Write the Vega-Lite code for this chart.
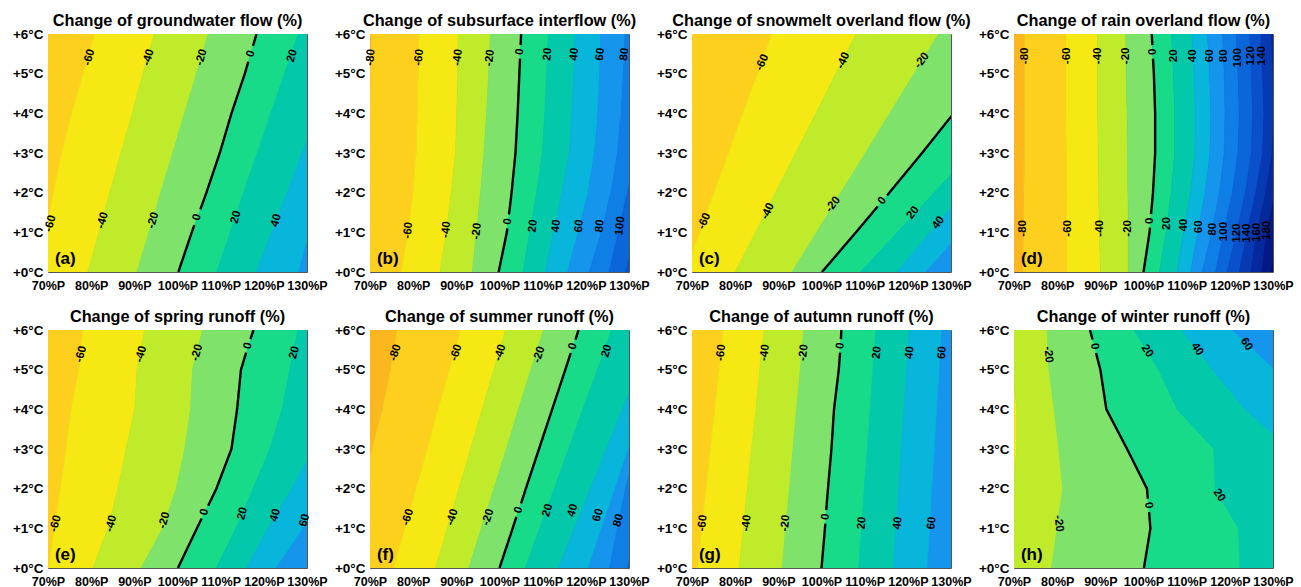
{
"$schema": "https://vega.github.io/schema/vega-lite/v6.json",
"padding": {"left": 11, "top": 12, "right": 5, "bottom": 0},
"background": "white",
"config": {
  "view": {"stroke": "#555555", "strokeWidth": 1},
  "axis": {"grid": false, "domain": false, "ticks": false, "labelFont": "Liberation Sans", "labelFontSize": 12.5, "labelFontWeight": "bold", "labelColor": "#000000", "labelFlush": false, "labelOverlap": false},
  "axisY": {"labelFontSize": 13.5}
},
"data": {"values": [
{"k":"b","panel":"a","band":-80,"t":0,"p":70},{"k":"b","panel":"a","band":-80,"t":1,"p":70},{"k":"b","panel":"a","band":-80,"t":2,"p":70},{"k":"b","panel":"a","band":-80,"t":3,"p":70},{"k":"b","panel":"a","band":-80,"t":4,"p":70},{"k":"b","panel":"a","band":-80,"t":5,"p":70},{"k":"b","panel":"a","band":-80,"t":6,"p":70},
{"k":"b","panel":"a","band":-60,"t":0,"p":67.5},{"k":"b","panel":"a","band":-60,"t":1,"p":69.5},{"k":"b","panel":"a","band":-60,"t":2,"p":71.3},{"k":"b","panel":"a","band":-60,"t":3,"p":73.2},{"k":"b","panel":"a","band":-60,"t":4,"p":75.5},{"k":"b","panel":"a","band":-60,"t":5,"p":78.2},{"k":"b","panel":"a","band":-60,"t":6,"p":80.8},
{"k":"b","panel":"a","band":-40,"t":0,"p":79.2},{"k":"b","panel":"a","band":-40,"t":1,"p":81.8},{"k":"b","panel":"a","band":-40,"t":2,"p":84.3},{"k":"b","panel":"a","band":-40,"t":3,"p":86.9},{"k":"b","panel":"a","band":-40,"t":4,"p":89.5},{"k":"b","panel":"a","band":-40,"t":5,"p":92.0},{"k":"b","panel":"a","band":-40,"t":6,"p":94.6},
{"k":"b","panel":"a","band":-20,"t":0,"p":90.6},{"k":"b","panel":"a","band":-20,"t":1,"p":93.4},{"k":"b","panel":"a","band":-20,"t":2,"p":96.1},{"k":"b","panel":"a","band":-20,"t":3,"p":98.9},{"k":"b","panel":"a","band":-20,"t":4,"p":101.6},{"k":"b","panel":"a","band":-20,"t":5,"p":104.4},{"k":"b","panel":"a","band":-20,"t":6,"p":107.1},
{"k":"b","panel":"a","band":0,"t":0,"p":100.2},{"k":"b","panel":"a","band":0,"t":1,"p":103.3},{"k":"b","panel":"a","band":0,"t":2,"p":106.7},{"k":"b","panel":"a","band":0,"t":3,"p":109.8},{"k":"b","panel":"a","band":0,"t":4,"p":112.5},{"k":"b","panel":"a","band":0,"t":5,"p":115.6},{"k":"b","panel":"a","band":0,"t":6,"p":118.3},
{"k":"b","panel":"a","band":20,"t":0,"p":109.1},{"k":"b","panel":"a","band":20,"t":1,"p":112.2},{"k":"b","panel":"a","band":20,"t":2,"p":115.3},{"k":"b","panel":"a","band":20,"t":3,"p":118.5},{"k":"b","panel":"a","band":20,"t":4,"p":121.6},{"k":"b","panel":"a","band":20,"t":5,"p":124.8},{"k":"b","panel":"a","band":20,"t":6,"p":127.9},
{"k":"b","panel":"a","band":40,"t":0,"p":118.3},{"k":"b","panel":"a","band":40,"t":1,"p":121.8},{"k":"b","panel":"a","band":40,"t":2,"p":125.4},{"k":"b","panel":"a","band":40,"t":3,"p":128.9},{"k":"b","panel":"a","band":40,"t":4,"p":132.4},{"k":"b","panel":"a","band":40,"t":5,"p":136.0},{"k":"b","panel":"a","band":40,"t":6,"p":139.5},
{"k":"b","panel":"a","band":60,"t":0,"p":127.9},{"k":"b","panel":"a","band":60,"t":1,"p":130.5},{"k":"b","panel":"a","band":60,"t":2,"p":133.5},{"k":"b","panel":"a","band":60,"t":3,"p":136.5},{"k":"b","panel":"a","band":60,"t":4,"p":139.5},{"k":"b","panel":"a","band":60,"t":5,"p":142.5},{"k":"b","panel":"a","band":60,"t":6,"p":145.5},
{"k":"bg","panel":"a","band":60},
{"k":"b","panel":"b","band":-100,"t":0,"p":70},{"k":"b","panel":"b","band":-100,"t":1,"p":70},{"k":"b","panel":"b","band":-100,"t":2,"p":70},{"k":"b","panel":"b","band":-100,"t":3,"p":70},{"k":"b","panel":"b","band":-100,"t":4,"p":70},{"k":"b","panel":"b","band":-100,"t":5,"p":70},{"k":"b","panel":"b","band":-100,"t":6,"p":70},
{"k":"b","panel":"b","band":-80,"t":0,"p":68.0},{"k":"b","panel":"b","band":-80,"t":1,"p":68.5},{"k":"b","panel":"b","band":-80,"t":2,"p":69.0},{"k":"b","panel":"b","band":-80,"t":3,"p":69.4},{"k":"b","panel":"b","band":-80,"t":4,"p":69.8},{"k":"b","panel":"b","band":-80,"t":5,"p":70.1},{"k":"b","panel":"b","band":-80,"t":6,"p":70.4},
{"k":"b","panel":"b","band":-60,"t":0,"p":77.3},{"k":"b","panel":"b","band":-60,"t":1,"p":78.8},{"k":"b","panel":"b","band":-60,"t":2,"p":80.0},{"k":"b","panel":"b","band":-60,"t":3,"p":80.7},{"k":"b","panel":"b","band":-60,"t":4,"p":81.0},{"k":"b","panel":"b","band":-60,"t":5,"p":81.2},{"k":"b","panel":"b","band":-60,"t":6,"p":81.4},
{"k":"b","panel":"b","band":-40,"t":0,"p":86.2},{"k":"b","panel":"b","band":-40,"t":1,"p":87.7},{"k":"b","panel":"b","band":-40,"t":2,"p":88.8},{"k":"b","panel":"b","band":-40,"t":3,"p":89.8},{"k":"b","panel":"b","band":-40,"t":4,"p":90.1},{"k":"b","panel":"b","band":-40,"t":5,"p":90.3},{"k":"b","panel":"b","band":-40,"t":6,"p":90.4},
{"k":"b","panel":"b","band":-20,"t":0,"p":93.7},{"k":"b","panel":"b","band":-20,"t":1,"p":94.7},{"k":"b","panel":"b","band":-20,"t":2,"p":95.6},{"k":"b","panel":"b","band":-20,"t":3,"p":96.4},{"k":"b","panel":"b","band":-20,"t":4,"p":97.0},{"k":"b","panel":"b","band":-20,"t":5,"p":97.5},{"k":"b","panel":"b","band":-20,"t":6,"p":97.9},
{"k":"b","panel":"b","band":0,"t":0,"p":99.8},{"k":"b","panel":"b","band":0,"t":1,"p":101.7},{"k":"b","panel":"b","band":0,"t":2,"p":102.8},{"k":"b","panel":"b","band":0,"t":3,"p":103.7},{"k":"b","panel":"b","band":0,"t":4,"p":104.2},{"k":"b","panel":"b","band":0,"t":5,"p":104.6},{"k":"b","panel":"b","band":0,"t":6,"p":105.0},
{"k":"b","panel":"b","band":20,"t":0,"p":105.4},{"k":"b","panel":"b","band":20,"t":1,"p":107.0},{"k":"b","panel":"b","band":20,"t":2,"p":108.6},{"k":"b","panel":"b","band":20,"t":3,"p":109.9},{"k":"b","panel":"b","band":20,"t":4,"p":110.5},{"k":"b","panel":"b","band":20,"t":5,"p":110.9},{"k":"b","panel":"b","band":20,"t":6,"p":111.3},
{"k":"b","panel":"b","band":40,"t":0,"p":110.6},{"k":"b","panel":"b","band":40,"t":1,"p":112.5},{"k":"b","panel":"b","band":40,"t":2,"p":114.5},{"k":"b","panel":"b","band":40,"t":3,"p":116.1},{"k":"b","panel":"b","band":40,"t":4,"p":116.8},{"k":"b","panel":"b","band":40,"t":5,"p":117.2},{"k":"b","panel":"b","band":40,"t":6,"p":117.5},
{"k":"b","panel":"b","band":60,"t":0,"p":115.8},{"k":"b","panel":"b","band":60,"t":1,"p":118.2},{"k":"b","panel":"b","band":60,"t":2,"p":120.5},{"k":"b","panel":"b","band":60,"t":3,"p":122.0},{"k":"b","panel":"b","band":60,"t":4,"p":122.8},{"k":"b","panel":"b","band":60,"t":5,"p":123.2},{"k":"b","panel":"b","band":60,"t":6,"p":123.5},
{"k":"b","panel":"b","band":80,"t":0,"p":120.8},{"k":"b","panel":"b","band":80,"t":1,"p":123.6},{"k":"b","panel":"b","band":80,"t":2,"p":125.8},{"k":"b","panel":"b","band":80,"t":3,"p":127.3},{"k":"b","panel":"b","band":80,"t":4,"p":128.2},{"k":"b","panel":"b","band":80,"t":5,"p":128.7},{"k":"b","panel":"b","band":80,"t":6,"p":129.1},
{"k":"b","panel":"b","band":100,"t":0,"p":125.4},{"k":"b","panel":"b","band":100,"t":1,"p":127.5},{"k":"b","panel":"b","band":100,"t":2,"p":129.6},{"k":"b","panel":"b","band":100,"t":3,"p":131.5},{"k":"b","panel":"b","band":100,"t":4,"p":133.0},{"k":"b","panel":"b","band":100,"t":5,"p":134.0},{"k":"b","panel":"b","band":100,"t":6,"p":135.0},
{"k":"b","panel":"b","band":120,"t":0,"p":129.0},{"k":"b","panel":"b","band":120,"t":1,"p":131.5},{"k":"b","panel":"b","band":120,"t":2,"p":134.0},{"k":"b","panel":"b","band":120,"t":3,"p":136.0},{"k":"b","panel":"b","band":120,"t":4,"p":138.0},{"k":"b","panel":"b","band":120,"t":5,"p":139.0},{"k":"b","panel":"b","band":120,"t":6,"p":140.0},
{"k":"bg","panel":"b","band":120},
{"k":"b","panel":"c","band":-80,"t":0,"p":70},{"k":"b","panel":"c","band":-80,"t":1,"p":70},{"k":"b","panel":"c","band":-80,"t":2,"p":70},{"k":"b","panel":"c","band":-80,"t":3,"p":70},{"k":"b","panel":"c","band":-80,"t":4,"p":70},{"k":"b","panel":"c","band":-80,"t":5,"p":70},{"k":"b","panel":"c","band":-80,"t":6,"p":70},
{"k":"b","panel":"c","band":-60,"t":0,"p":68.5},{"k":"b","panel":"c","band":-60,"t":1,"p":71.8},{"k":"b","panel":"c","band":-60,"t":2,"p":75.1},{"k":"b","panel":"c","band":-60,"t":3,"p":78.5},{"k":"b","panel":"c","band":-60,"t":4,"p":81.8},{"k":"b","panel":"c","band":-60,"t":5,"p":85.2},{"k":"b","panel":"c","band":-60,"t":6,"p":88.5},
{"k":"b","panel":"c","band":-40,"t":0,"p":80.0},{"k":"b","panel":"c","band":-40,"t":1,"p":84.7},{"k":"b","panel":"c","band":-40,"t":2,"p":89.3},{"k":"b","panel":"c","band":-40,"t":3,"p":94.0},{"k":"b","panel":"c","band":-40,"t":4,"p":98.7},{"k":"b","panel":"c","band":-40,"t":5,"p":103.3},{"k":"b","panel":"c","band":-40,"t":6,"p":108.0},
{"k":"b","panel":"c","band":-20,"t":0,"p":93.2},{"k":"b","panel":"c","band":-20,"t":1,"p":98.9},{"k":"b","panel":"c","band":-20,"t":2,"p":104.5},{"k":"b","panel":"c","band":-20,"t":3,"p":110.2},{"k":"b","panel":"c","band":-20,"t":4,"p":115.8},{"k":"b","panel":"c","band":-20,"t":5,"p":121.5},{"k":"b","panel":"c","band":-20,"t":6,"p":127.1},
{"k":"b","panel":"c","band":0,"t":0,"p":100.1},{"k":"b","panel":"c","band":0,"t":1,"p":108.0},{"k":"b","panel":"c","band":0,"t":2,"p":115.7},{"k":"b","panel":"c","band":0,"t":3,"p":123.3},{"k":"b","panel":"c","band":0,"t":4,"p":130.6},{"k":"b","panel":"c","band":0,"t":5,"p":138.0},{"k":"b","panel":"c","band":0,"t":6,"p":145.0},
{"k":"b","panel":"c","band":20,"t":0,"p":109.0},{"k":"b","panel":"c","band":20,"t":1,"p":117.6},{"k":"b","panel":"c","band":20,"t":2,"p":126.1},{"k":"b","panel":"c","band":20,"t":3,"p":134.7},{"k":"b","panel":"c","band":20,"t":4,"p":143.0},{"k":"b","panel":"c","band":20,"t":5,"p":151.0},{"k":"b","panel":"c","band":20,"t":6,"p":159.0},
{"k":"b","panel":"c","band":40,"t":0,"p":117.5},{"k":"b","panel":"c","band":40,"t":1,"p":125.2},{"k":"b","panel":"c","band":40,"t":2,"p":133.0},{"k":"b","panel":"c","band":40,"t":3,"p":141.0},{"k":"b","panel":"c","band":40,"t":4,"p":149.0},{"k":"b","panel":"c","band":40,"t":5,"p":157.0},{"k":"b","panel":"c","band":40,"t":6,"p":165.0},
{"k":"b","panel":"c","band":60,"t":0,"p":124.0},{"k":"b","panel":"c","band":60,"t":1,"p":132.2},{"k":"b","panel":"c","band":60,"t":2,"p":140.0},{"k":"b","panel":"c","band":60,"t":3,"p":148.0},{"k":"b","panel":"c","band":60,"t":4,"p":156.0},{"k":"b","panel":"c","band":60,"t":5,"p":164.0},{"k":"b","panel":"c","band":60,"t":6,"p":172.0},
{"k":"bg","panel":"c","band":60},
{"k":"b","panel":"d","band":-100,"t":0,"p":70},{"k":"b","panel":"d","band":-100,"t":1,"p":70},{"k":"b","panel":"d","band":-100,"t":2,"p":70},{"k":"b","panel":"d","band":-100,"t":3,"p":70},{"k":"b","panel":"d","band":-100,"t":4,"p":70},{"k":"b","panel":"d","band":-100,"t":5,"p":70},{"k":"b","panel":"d","band":-100,"t":6,"p":70},
{"k":"b","panel":"d","band":-80,"t":0,"p":72.0},{"k":"b","panel":"d","band":-80,"t":1,"p":72.2},{"k":"b","panel":"d","band":-80,"t":2,"p":72.3},{"k":"b","panel":"d","band":-80,"t":3,"p":72.4},{"k":"b","panel":"d","band":-80,"t":4,"p":72.4},{"k":"b","panel":"d","band":-80,"t":5,"p":72.4},{"k":"b","panel":"d","band":-80,"t":6,"p":72.4},
{"k":"b","panel":"d","band":-60,"t":0,"p":82.2},{"k":"b","panel":"d","band":-60,"t":1,"p":82.2},{"k":"b","panel":"d","band":-60,"t":2,"p":82.1},{"k":"b","panel":"d","band":-60,"t":3,"p":82.1},{"k":"b","panel":"d","band":-60,"t":4,"p":82.0},{"k":"b","panel":"d","band":-60,"t":5,"p":82.0},{"k":"b","panel":"d","band":-60,"t":6,"p":82.0},
{"k":"b","panel":"d","band":-40,"t":0,"p":90.0},{"k":"b","panel":"d","band":-40,"t":1,"p":89.8},{"k":"b","panel":"d","band":-40,"t":2,"p":89.6},{"k":"b","panel":"d","band":-40,"t":3,"p":89.5},{"k":"b","panel":"d","band":-40,"t":4,"p":89.4},{"k":"b","panel":"d","band":-40,"t":5,"p":89.4},{"k":"b","panel":"d","band":-40,"t":6,"p":89.4},
{"k":"b","panel":"d","band":-20,"t":0,"p":96.5},{"k":"b","panel":"d","band":-20,"t":1,"p":96.5},{"k":"b","panel":"d","band":-20,"t":2,"p":96.4},{"k":"b","panel":"d","band":-20,"t":3,"p":96.3},{"k":"b","panel":"d","band":-20,"t":4,"p":96.2},{"k":"b","panel":"d","band":-20,"t":5,"p":96.0},{"k":"b","panel":"d","band":-20,"t":6,"p":95.9},
{"k":"b","panel":"d","band":0,"t":0,"p":100.0},{"k":"b","panel":"d","band":0,"t":1,"p":101.4},{"k":"b","panel":"d","band":0,"t":2,"p":102.2},{"k":"b","panel":"d","band":0,"t":3,"p":102.7},{"k":"b","panel":"d","band":0,"t":4,"p":102.7},{"k":"b","panel":"d","band":0,"t":5,"p":102.4},{"k":"b","panel":"d","band":0,"t":6,"p":101.9},
{"k":"b","panel":"d","band":20,"t":0,"p":103.7},{"k":"b","panel":"d","band":20,"t":1,"p":105.2},{"k":"b","panel":"d","band":20,"t":2,"p":106.4},{"k":"b","panel":"d","band":20,"t":3,"p":107.2},{"k":"b","panel":"d","band":20,"t":4,"p":107.2},{"k":"b","panel":"d","band":20,"t":5,"p":106.9},{"k":"b","panel":"d","band":20,"t":6,"p":106.5},
{"k":"b","panel":"d","band":40,"t":0,"p":107.8},{"k":"b","panel":"d","band":40,"t":1,"p":109.3},{"k":"b","panel":"d","band":40,"t":2,"p":110.9},{"k":"b","panel":"d","band":40,"t":3,"p":111.9},{"k":"b","panel":"d","band":40,"t":4,"p":112.0},{"k":"b","panel":"d","band":40,"t":5,"p":111.7},{"k":"b","panel":"d","band":40,"t":6,"p":111.2},
{"k":"b","panel":"d","band":60,"t":0,"p":110.9},{"k":"b","panel":"d","band":60,"t":1,"p":112.6},{"k":"b","panel":"d","band":60,"t":2,"p":114.3},{"k":"b","panel":"d","band":60,"t":3,"p":115.4},{"k":"b","panel":"d","band":60,"t":4,"p":115.6},{"k":"b","panel":"d","band":60,"t":5,"p":115.3},{"k":"b","panel":"d","band":60,"t":6,"p":114.8},
{"k":"b","panel":"d","band":80,"t":0,"p":113.6},{"k":"b","panel":"d","band":80,"t":1,"p":115.8},{"k":"b","panel":"d","band":80,"t":2,"p":117.6},{"k":"b","panel":"d","band":80,"t":3,"p":118.7},{"k":"b","panel":"d","band":80,"t":4,"p":118.9},{"k":"b","panel":"d","band":80,"t":5,"p":118.7},{"k":"b","panel":"d","band":80,"t":6,"p":118.3},
{"k":"b","panel":"d","band":100,"t":0,"p":116.7},{"k":"b","panel":"d","band":100,"t":1,"p":118.6},{"k":"b","panel":"d","band":100,"t":2,"p":120.6},{"k":"b","panel":"d","band":100,"t":3,"p":121.9},{"k":"b","panel":"d","band":100,"t":4,"p":122.2},{"k":"b","panel":"d","band":100,"t":5,"p":121.9},{"k":"b","panel":"d","band":100,"t":6,"p":121.5},
{"k":"b","panel":"d","band":120,"t":0,"p":119.4},{"k":"b","panel":"d","band":120,"t":1,"p":121.6},{"k":"b","panel":"d","band":120,"t":2,"p":123.6},{"k":"b","panel":"d","band":120,"t":3,"p":125.0},{"k":"b","panel":"d","band":120,"t":4,"p":125.3},{"k":"b","panel":"d","band":120,"t":5,"p":125.0},{"k":"b","panel":"d","band":120,"t":6,"p":124.6},
{"k":"b","panel":"d","band":140,"t":0,"p":122.2},{"k":"b","panel":"d","band":140,"t":1,"p":124.0},{"k":"b","panel":"d","band":140,"t":2,"p":126.0},{"k":"b","panel":"d","band":140,"t":3,"p":127.6},{"k":"b","panel":"d","band":140,"t":4,"p":127.9},{"k":"b","panel":"d","band":140,"t":5,"p":127.6},{"k":"b","panel":"d","band":140,"t":6,"p":127.2},
{"k":"b","panel":"d","band":160,"t":0,"p":124.9},{"k":"b","panel":"d","band":160,"t":1,"p":126.3},{"k":"b","panel":"d","band":160,"t":2,"p":128.3},{"k":"b","panel":"d","band":160,"t":3,"p":129.8},{"k":"b","panel":"d","band":160,"t":4,"p":130.2},{"k":"b","panel":"d","band":160,"t":5,"p":130.0},{"k":"b","panel":"d","band":160,"t":6,"p":129.6},
{"k":"b","panel":"d","band":180,"t":0,"p":127.4},{"k":"b","panel":"d","band":180,"t":1,"p":128.6},{"k":"b","panel":"d","band":180,"t":2,"p":130.5},{"k":"b","panel":"d","band":180,"t":3,"p":132.0},{"k":"b","panel":"d","band":180,"t":4,"p":132.5},{"k":"b","panel":"d","band":180,"t":5,"p":132.3},{"k":"b","panel":"d","band":180,"t":6,"p":131.8},
{"k":"b","panel":"d","band":200,"t":0,"p":129.5},{"k":"b","panel":"d","band":200,"t":1,"p":131.0},{"k":"b","panel":"d","band":200,"t":2,"p":133.0},{"k":"b","panel":"d","band":200,"t":3,"p":134.5},{"k":"b","panel":"d","band":200,"t":4,"p":135.0},{"k":"b","panel":"d","band":200,"t":5,"p":134.8},{"k":"b","panel":"d","band":200,"t":6,"p":134.2},
{"k":"bg","panel":"d","band":200},
{"k":"b","panel":"e","band":-80,"t":0,"p":70},{"k":"b","panel":"e","band":-80,"t":1,"p":70},{"k":"b","panel":"e","band":-80,"t":2,"p":70},{"k":"b","panel":"e","band":-80,"t":3,"p":70},{"k":"b","panel":"e","band":-80,"t":4,"p":70},{"k":"b","panel":"e","band":-80,"t":5,"p":70},{"k":"b","panel":"e","band":-80,"t":6,"p":70},
{"k":"b","panel":"e","band":-60,"t":0,"p":70.2},{"k":"b","panel":"e","band":-60,"t":1,"p":71.5},{"k":"b","panel":"e","band":-60,"t":2,"p":72.9},{"k":"b","panel":"e","band":-60,"t":3,"p":74.2},{"k":"b","panel":"e","band":-60,"t":4,"p":75.4},{"k":"b","panel":"e","band":-60,"t":5,"p":77.2},{"k":"b","panel":"e","band":-60,"t":6,"p":78.1},
{"k":"b","panel":"e","band":-40,"t":0,"p":80.4},{"k":"b","panel":"e","band":-40,"t":1,"p":83.9},{"k":"b","panel":"e","band":-40,"t":2,"p":86.2},{"k":"b","panel":"e","band":-40,"t":3,"p":88.1},{"k":"b","panel":"e","band":-40,"t":4,"p":90.1},{"k":"b","panel":"e","band":-40,"t":5,"p":90.6},{"k":"b","panel":"e","band":-40,"t":6,"p":92.4},
{"k":"b","panel":"e","band":-20,"t":0,"p":91.6},{"k":"b","panel":"e","band":-20,"t":1,"p":96.6},{"k":"b","panel":"e","band":-20,"t":2,"p":99.7},{"k":"b","panel":"e","band":-20,"t":3,"p":101.7},{"k":"b","panel":"e","band":-20,"t":4,"p":103.0},{"k":"b","panel":"e","band":-20,"t":5,"p":103.5},{"k":"b","panel":"e","band":-20,"t":6,"p":105.8},
{"k":"b","panel":"e","band":0,"t":0,"p":100.1},{"k":"b","panel":"e","band":0,"t":1,"p":104.5},{"k":"b","panel":"e","band":0,"t":2,"p":109.0},{"k":"b","panel":"e","band":0,"t":3,"p":112.5},{"k":"b","panel":"e","band":0,"t":4,"p":113.8},{"k":"b","panel":"e","band":0,"t":5,"p":114.7},{"k":"b","panel":"e","band":0,"t":6,"p":117.6},
{"k":"b","panel":"e","band":20,"t":0,"p":109.0},{"k":"b","panel":"e","band":20,"t":1,"p":113.5},{"k":"b","panel":"e","band":20,"t":2,"p":117.5},{"k":"b","panel":"e","band":20,"t":3,"p":121.4},{"k":"b","panel":"e","band":20,"t":4,"p":124.2},{"k":"b","panel":"e","band":20,"t":5,"p":126.0},{"k":"b","panel":"e","band":20,"t":6,"p":127.9},
{"k":"b","panel":"e","band":40,"t":0,"p":116.0},{"k":"b","panel":"e","band":40,"t":1,"p":121.0},{"k":"b","panel":"e","band":40,"t":2,"p":126.5},{"k":"b","panel":"e","band":40,"t":3,"p":131.5},{"k":"b","panel":"e","band":40,"t":4,"p":135.0},{"k":"b","panel":"e","band":40,"t":5,"p":138.0},{"k":"b","panel":"e","band":40,"t":6,"p":141.0},
{"k":"b","panel":"e","band":60,"t":0,"p":122.7},{"k":"b","panel":"e","band":60,"t":1,"p":129.0},{"k":"b","panel":"e","band":60,"t":2,"p":135.0},{"k":"b","panel":"e","band":60,"t":3,"p":140.0},{"k":"b","panel":"e","band":60,"t":4,"p":144.0},{"k":"b","panel":"e","band":60,"t":5,"p":148.0},{"k":"b","panel":"e","band":60,"t":6,"p":152.0},
{"k":"bg","panel":"e","band":60},
{"k":"b","panel":"f","band":-100,"t":0,"p":70},{"k":"b","panel":"f","band":-100,"t":1,"p":70},{"k":"b","panel":"f","band":-100,"t":2,"p":70},{"k":"b","panel":"f","band":-100,"t":3,"p":70},{"k":"b","panel":"f","band":-100,"t":4,"p":70},{"k":"b","panel":"f","band":-100,"t":5,"p":70},{"k":"b","panel":"f","band":-100,"t":6,"p":70},
{"k":"b","panel":"f","band":-80,"t":0,"p":63.0},{"k":"b","panel":"f","band":-80,"t":1,"p":65.5},{"k":"b","panel":"f","band":-80,"t":2,"p":68.0},{"k":"b","panel":"f","band":-80,"t":3,"p":70.5},{"k":"b","panel":"f","band":-80,"t":4,"p":72.9},{"k":"b","panel":"f","band":-80,"t":5,"p":74.8},{"k":"b","panel":"f","band":-80,"t":6,"p":76.3},
{"k":"b","panel":"f","band":-60,"t":0,"p":75.5},{"k":"b","panel":"f","band":-60,"t":1,"p":78.1},{"k":"b","panel":"f","band":-60,"t":2,"p":80.7},{"k":"b","panel":"f","band":-60,"t":3,"p":83.3},{"k":"b","panel":"f","band":-60,"t":4,"p":85.8},{"k":"b","panel":"f","band":-60,"t":5,"p":88.4},{"k":"b","panel":"f","band":-60,"t":6,"p":91.0},
{"k":"b","panel":"f","band":-40,"t":0,"p":85.2},{"k":"b","panel":"f","band":-40,"t":1,"p":87.9},{"k":"b","panel":"f","band":-40,"t":2,"p":90.6},{"k":"b","panel":"f","band":-40,"t":3,"p":93.3},{"k":"b","panel":"f","band":-40,"t":4,"p":96.0},{"k":"b","panel":"f","band":-40,"t":5,"p":98.7},{"k":"b","panel":"f","band":-40,"t":6,"p":101.4},
{"k":"b","panel":"f","band":-20,"t":0,"p":92.9},{"k":"b","panel":"f","band":-20,"t":1,"p":95.8},{"k":"b","panel":"f","band":-20,"t":2,"p":98.7},{"k":"b","panel":"f","band":-20,"t":3,"p":101.6},{"k":"b","panel":"f","band":-20,"t":4,"p":104.4},{"k":"b","panel":"f","band":-20,"t":5,"p":107.3},{"k":"b","panel":"f","band":-20,"t":6,"p":110.2},
{"k":"b","panel":"f","band":0,"t":0,"p":100.0},{"k":"b","panel":"f","band":0,"t":1,"p":103.05},{"k":"b","panel":"f","band":0,"t":2,"p":106.1},{"k":"b","panel":"f","band":0,"t":3,"p":109.15},{"k":"b","panel":"f","band":0,"t":4,"p":112.2},{"k":"b","panel":"f","band":0,"t":5,"p":115.25},{"k":"b","panel":"f","band":0,"t":6,"p":118.3},
{"k":"b","panel":"f","band":20,"t":0,"p":106.0},{"k":"b","panel":"f","band":20,"t":1,"p":109.3},{"k":"b","panel":"f","band":20,"t":2,"p":112.7},{"k":"b","panel":"f","band":20,"t":3,"p":116.0},{"k":"b","panel":"f","band":20,"t":4,"p":119.3},{"k":"b","panel":"f","band":20,"t":5,"p":122.7},{"k":"b","panel":"f","band":20,"t":6,"p":126.0},
{"k":"b","panel":"f","band":40,"t":0,"p":113.7},{"k":"b","panel":"f","band":40,"t":1,"p":117.4},{"k":"b","panel":"f","band":40,"t":2,"p":121.1},{"k":"b","panel":"f","band":40,"t":3,"p":124.8},{"k":"b","panel":"f","band":40,"t":4,"p":128.5},{"k":"b","panel":"f","band":40,"t":5,"p":132.2},{"k":"b","panel":"f","band":40,"t":6,"p":135.9},
{"k":"b","panel":"f","band":60,"t":0,"p":120.6},{"k":"b","panel":"f","band":60,"t":1,"p":123.7},{"k":"b","panel":"f","band":60,"t":2,"p":126.8},{"k":"b","panel":"f","band":60,"t":3,"p":129.9},{"k":"b","panel":"f","band":60,"t":4,"p":133.0},{"k":"b","panel":"f","band":60,"t":5,"p":136.1},{"k":"b","panel":"f","band":60,"t":6,"p":139.2},
{"k":"b","panel":"f","band":80,"t":0,"p":125.5},{"k":"b","panel":"f","band":80,"t":1,"p":127.3},{"k":"b","panel":"f","band":80,"t":2,"p":129.2},{"k":"b","panel":"f","band":80,"t":3,"p":131.5},{"k":"b","panel":"f","band":80,"t":4,"p":134.5},{"k":"b","panel":"f","band":80,"t":5,"p":137.5},{"k":"b","panel":"f","band":80,"t":6,"p":140.5},
{"k":"b","panel":"f","band":100,"t":0,"p":129.5},{"k":"b","panel":"f","band":100,"t":1,"p":131.5},{"k":"b","panel":"f","band":100,"t":2,"p":134.0},{"k":"b","panel":"f","band":100,"t":3,"p":137.0},{"k":"b","panel":"f","band":100,"t":4,"p":140.0},{"k":"b","panel":"f","band":100,"t":5,"p":143.0},{"k":"b","panel":"f","band":100,"t":6,"p":146.0},
{"k":"bg","panel":"f","band":100},
{"k":"b","panel":"g","band":-80,"t":0,"p":70},{"k":"b","panel":"g","band":-80,"t":1,"p":70},{"k":"b","panel":"g","band":-80,"t":2,"p":70},{"k":"b","panel":"g","band":-80,"t":3,"p":70},{"k":"b","panel":"g","band":-80,"t":4,"p":70},{"k":"b","panel":"g","band":-80,"t":5,"p":70},{"k":"b","panel":"g","band":-80,"t":6,"p":70},
{"k":"b","panel":"g","band":-60,"t":0,"p":71.3},{"k":"b","panel":"g","band":-60,"t":1,"p":72.3},{"k":"b","panel":"g","band":-60,"t":2,"p":73.3},{"k":"b","panel":"g","band":-60,"t":3,"p":74.3},{"k":"b","panel":"g","band":-60,"t":4,"p":75.3},{"k":"b","panel":"g","band":-60,"t":5,"p":76.3},{"k":"b","panel":"g","band":-60,"t":6,"p":77.3},
{"k":"b","panel":"g","band":-40,"t":0,"p":80.9},{"k":"b","panel":"g","band":-40,"t":1,"p":81.9},{"k":"b","panel":"g","band":-40,"t":2,"p":82.8},{"k":"b","panel":"g","band":-40,"t":3,"p":83.8},{"k":"b","panel":"g","band":-40,"t":4,"p":84.8},{"k":"b","panel":"g","band":-40,"t":5,"p":85.7},{"k":"b","panel":"g","band":-40,"t":6,"p":86.7},
{"k":"b","panel":"g","band":-20,"t":0,"p":90.9},{"k":"b","panel":"g","band":-20,"t":1,"p":91.7},{"k":"b","panel":"g","band":-20,"t":2,"p":92.6},{"k":"b","panel":"g","band":-20,"t":3,"p":93.4},{"k":"b","panel":"g","band":-20,"t":4,"p":94.2},{"k":"b","panel":"g","band":-20,"t":5,"p":95.1},{"k":"b","panel":"g","band":-20,"t":6,"p":95.9},
{"k":"b","panel":"g","band":0,"t":0,"p":100.0},{"k":"b","panel":"g","band":0,"t":1,"p":100.8},{"k":"b","panel":"g","band":0,"t":2,"p":101.5},{"k":"b","panel":"g","band":0,"t":3,"p":102.3},{"k":"b","panel":"g","band":0,"t":4,"p":102.9},{"k":"b","panel":"g","band":0,"t":5,"p":104.0},{"k":"b","panel":"g","band":0,"t":6,"p":104.6},
{"k":"b","panel":"g","band":20,"t":0,"p":108.6},{"k":"b","panel":"g","band":20,"t":1,"p":109.3},{"k":"b","panel":"g","band":20,"t":2,"p":109.9},{"k":"b","panel":"g","band":20,"t":3,"p":110.6},{"k":"b","panel":"g","band":20,"t":4,"p":111.3},{"k":"b","panel":"g","band":20,"t":5,"p":111.9},{"k":"b","panel":"g","band":20,"t":6,"p":112.6},
{"k":"b","panel":"g","band":40,"t":0,"p":116.7},{"k":"b","panel":"g","band":40,"t":1,"p":117.3},{"k":"b","panel":"g","band":40,"t":2,"p":117.9},{"k":"b","panel":"g","band":40,"t":3,"p":118.5},{"k":"b","panel":"g","band":40,"t":4,"p":119.1},{"k":"b","panel":"g","band":40,"t":5,"p":119.7},{"k":"b","panel":"g","band":40,"t":6,"p":120.3},
{"k":"b","panel":"g","band":60,"t":0,"p":124.4},{"k":"b","panel":"g","band":60,"t":1,"p":125.0},{"k":"b","panel":"g","band":60,"t":2,"p":125.5},{"k":"b","panel":"g","band":60,"t":3,"p":126.1},{"k":"b","panel":"g","band":60,"t":4,"p":126.6},{"k":"b","panel":"g","band":60,"t":5,"p":127.2},{"k":"b","panel":"g","band":60,"t":6,"p":127.7},
{"k":"bg","panel":"g","band":60},
{"k":"b","panel":"h","band":-60,"t":0,"p":70},{"k":"b","panel":"h","band":-60,"t":1,"p":70},{"k":"b","panel":"h","band":-60,"t":2,"p":70},{"k":"b","panel":"h","band":-60,"t":3,"p":70},{"k":"b","panel":"h","band":-60,"t":4,"p":70},{"k":"b","panel":"h","band":-60,"t":5,"p":70},{"k":"b","panel":"h","band":-60,"t":6,"p":70},
{"k":"b","panel":"h","band":-40,"t":0,"p":69.0},{"k":"b","panel":"h","band":-40,"t":1,"p":69.5},{"k":"b","panel":"h","band":-40,"t":2,"p":69.8},{"k":"b","panel":"h","band":-40,"t":3,"p":70.6},{"k":"b","panel":"h","band":-40,"t":4,"p":70.6},{"k":"b","panel":"h","band":-40,"t":5,"p":69.7},{"k":"b","panel":"h","band":-40,"t":6,"p":69.4},
{"k":"b","panel":"h","band":-20,"t":0,"p":78.7},{"k":"b","panel":"h","band":-20,"t":1,"p":80.0},{"k":"b","panel":"h","band":-20,"t":2,"p":81.3},{"k":"b","panel":"h","band":-20,"t":3,"p":80.4},{"k":"b","panel":"h","band":-20,"t":4,"p":79.3},{"k":"b","panel":"h","band":-20,"t":5,"p":78.1},{"k":"b","panel":"h","band":-20,"t":6,"p":77.7},
{"k":"b","panel":"h","band":0,"t":0,"p":100.1},{"k":"b","panel":"h","band":0,"t":1,"p":101.6},{"k":"b","panel":"h","band":0,"t":2,"p":100.8},{"k":"b","panel":"h","band":0,"t":3,"p":96.2},{"k":"b","panel":"h","band":0,"t":4,"p":91.4},{"k":"b","panel":"h","band":0,"t":5,"p":90.0},{"k":"b","panel":"h","band":0,"t":6,"p":87.6},
{"k":"b","panel":"h","band":20,"t":0,"p":122.4},{"k":"b","panel":"h","band":20,"t":1,"p":122.0},{"k":"b","panel":"h","band":20,"t":2,"p":116.6},{"k":"b","panel":"h","band":20,"t":3,"p":116.3},{"k":"b","panel":"h","band":20,"t":4,"p":107.8},{"k":"b","panel":"h","band":20,"t":5,"p":103.5},{"k":"b","panel":"h","band":20,"t":6,"p":97.8},
{"k":"b","panel":"h","band":40,"t":0,"p":150.0},{"k":"b","panel":"h","band":40,"t":1,"p":145.0},{"k":"b","panel":"h","band":40,"t":2,"p":140.0},{"k":"b","panel":"h","band":40,"t":3,"p":134.0},{"k":"b","panel":"h","band":40,"t":4,"p":123.6},{"k":"b","panel":"h","band":40,"t":5,"p":116.0},{"k":"b","panel":"h","band":40,"t":6,"p":108.9},
{"k":"b","panel":"h","band":60,"t":0,"p":170.0},{"k":"b","panel":"h","band":60,"t":1,"p":165.0},{"k":"b","panel":"h","band":60,"t":2,"p":160.0},{"k":"b","panel":"h","band":60,"t":3,"p":150.0},{"k":"b","panel":"h","band":60,"t":4,"p":140.0},{"k":"b","panel":"h","band":60,"t":5,"p":130.3},{"k":"b","panel":"h","band":60,"t":6,"p":120.5},
{"k":"bg","panel":"h","band":60},
{"k":"z","panel":"a","seg":1,"t":0,"p":100.2},{"k":"z","panel":"a","seg":1,"t":1,"p":103.3},{"k":"z","panel":"a","seg":1,"t":1.18,"p":103.9},{"k":"z","panel":"a","seg":2,"t":1.58,"p":105.3},{"k":"z","panel":"a","seg":2,"t":2,"p":106.7},{"k":"z","panel":"a","seg":2,"t":3,"p":109.8},{"k":"z","panel":"a","seg":2,"t":4,"p":112.5},{"k":"z","panel":"a","seg":2,"t":5,"p":115.6},{"k":"z","panel":"a","seg":2,"t":5.3,"p":116.4},{"k":"z","panel":"a","seg":3,"t":5.7,"p":117.5},{"k":"z","panel":"a","seg":3,"t":6,"p":118.3},
{"k":"z","panel":"b","seg":1,"t":0,"p":99.8},{"k":"z","panel":"b","seg":1,"t":1,"p":101.7},{"k":"z","panel":"b","seg":1,"t":1.1,"p":101.8},{"k":"z","panel":"b","seg":2,"t":1.45,"p":102.2},{"k":"z","panel":"b","seg":2,"t":2,"p":102.8},{"k":"z","panel":"b","seg":2,"t":3,"p":103.7},{"k":"z","panel":"b","seg":2,"t":4,"p":104.2},{"k":"z","panel":"b","seg":2,"t":5,"p":104.6},{"k":"z","panel":"b","seg":2,"t":5.38,"p":104.75},{"k":"z","panel":"b","seg":3,"t":5.72,"p":104.9},{"k":"z","panel":"b","seg":3,"t":6,"p":105.0},
{"k":"z","panel":"c","seg":1,"t":0,"p":100.1},{"k":"z","panel":"c","seg":1,"t":1,"p":108.0},{"k":"z","panel":"c","seg":1,"t":1.65,"p":113.0},{"k":"z","panel":"c","seg":2,"t":1.93,"p":115.2},{"k":"z","panel":"c","seg":2,"t":2,"p":115.7},{"k":"z","panel":"c","seg":2,"t":3,"p":123.3},{"k":"z","panel":"c","seg":2,"t":4,"p":130.6},
{"k":"z","panel":"d","seg":1,"t":0,"p":100.0},{"k":"z","panel":"d","seg":1,"t":1,"p":101.4},{"k":"z","panel":"d","seg":1,"t":1.12,"p":101.5},{"k":"z","panel":"d","seg":2,"t":1.46,"p":101.75},{"k":"z","panel":"d","seg":2,"t":2,"p":102.2},{"k":"z","panel":"d","seg":2,"t":3,"p":102.7},{"k":"z","panel":"d","seg":2,"t":4,"p":102.7},{"k":"z","panel":"d","seg":2,"t":5,"p":102.4},{"k":"z","panel":"d","seg":2,"t":5.38,"p":102.2},{"k":"z","panel":"d","seg":3,"t":5.72,"p":102.05},{"k":"z","panel":"d","seg":3,"t":6,"p":101.9},
{"k":"z","panel":"e","seg":1,"t":0,"p":100.1},{"k":"z","panel":"e","seg":1,"t":1,"p":104.5},{"k":"z","panel":"e","seg":1,"t":1.25,"p":105.6},{"k":"z","panel":"e","seg":2,"t":1.57,"p":107.1},{"k":"z","panel":"e","seg":2,"t":2,"p":109.0},{"k":"z","panel":"e","seg":2,"t":3,"p":112.5},{"k":"z","panel":"e","seg":2,"t":4,"p":113.8},{"k":"z","panel":"e","seg":2,"t":5,"p":114.7},{"k":"z","panel":"e","seg":2,"t":5.43,"p":115.9},{"k":"z","panel":"e","seg":3,"t":5.77,"p":116.9},{"k":"z","panel":"e","seg":3,"t":6,"p":117.6},
{"k":"z","panel":"f","seg":1,"t":0,"p":100.0},{"k":"z","panel":"f","seg":1,"t":1,"p":103.05},{"k":"z","panel":"f","seg":1,"t":1.29,"p":103.9},{"k":"z","panel":"f","seg":2,"t":1.63,"p":105.0},{"k":"z","panel":"f","seg":2,"t":2,"p":106.1},{"k":"z","panel":"f","seg":2,"t":3,"p":109.15},{"k":"z","panel":"f","seg":2,"t":4,"p":112.2},{"k":"z","panel":"f","seg":2,"t":5,"p":115.25},{"k":"z","panel":"f","seg":2,"t":5.42,"p":116.5},{"k":"z","panel":"f","seg":3,"t":5.76,"p":117.6},{"k":"z","panel":"f","seg":3,"t":6,"p":118.3},
{"k":"z","panel":"g","seg":1,"t":0,"p":100.0},{"k":"z","panel":"g","seg":1,"t":1,"p":100.8},{"k":"z","panel":"g","seg":1,"t":1.12,"p":100.9},{"k":"z","panel":"g","seg":2,"t":1.46,"p":101.1},{"k":"z","panel":"g","seg":2,"t":2,"p":101.5},{"k":"z","panel":"g","seg":2,"t":3,"p":102.3},{"k":"z","panel":"g","seg":2,"t":4,"p":102.9},{"k":"z","panel":"g","seg":2,"t":5,"p":104.0},{"k":"z","panel":"g","seg":2,"t":5.43,"p":104.3},{"k":"z","panel":"g","seg":3,"t":5.77,"p":104.5},{"k":"z","panel":"g","seg":3,"t":6,"p":104.6},
{"k":"z","panel":"h","seg":1,"t":0,"p":100.1},{"k":"z","panel":"h","seg":1,"t":1,"p":101.6},{"k":"z","panel":"h","seg":1,"t":1.41,"p":101.3},{"k":"z","panel":"h","seg":2,"t":1.75,"p":101.0},{"k":"z","panel":"h","seg":2,"t":2,"p":100.8},{"k":"z","panel":"h","seg":2,"t":3,"p":96.2},{"k":"z","panel":"h","seg":2,"t":4,"p":91.4},{"k":"z","panel":"h","seg":2,"t":5,"p":90.0},{"k":"z","panel":"h","seg":2,"t":5.42,"p":89.0},{"k":"z","panel":"h","seg":3,"t":5.76,"p":88.2},{"k":"z","panel":"h","seg":3,"t":6,"p":87.6},
{"k":"l","panel":"a","level":-60,"t":5.41,"p":79.6},{"k":"l","panel":"a","level":-40,"t":5.41,"p":93.3},{"k":"l","panel":"a","level":-20,"t":5.41,"p":105.6},{"k":"l","panel":"a","level":0,"t":5.5,"p":117.0},{"k":"l","panel":"a","level":20,"t":5.45,"p":126.6},{"k":"l","panel":"a","level":-60,"t":1.22,"p":70.6},{"k":"l","panel":"a","level":-40,"t":1.3,"p":82.7},{"k":"l","panel":"a","level":-20,"t":1.3,"p":94.4},{"k":"l","panel":"a","level":0,"t":1.38,"p":104.6},{"k":"l","panel":"a","level":20,"t":1.38,"p":113.6},{"k":"l","panel":"a","level":40,"t":1.3,"p":122.9},
{"k":"l","panel":"b","level":-80,"t":5.41,"p":70.2},{"k":"l","panel":"b","level":-60,"t":5.41,"p":81.4},{"k":"l","panel":"b","level":-40,"t":5.41,"p":90.4},{"k":"l","panel":"b","level":-20,"t":5.4,"p":97.8},{"k":"l","panel":"b","level":0,"t":5.55,"p":104.8},{"k":"l","panel":"b","level":20,"t":5.49,"p":111.2},{"k":"l","panel":"b","level":40,"t":5.49,"p":117.4},{"k":"l","panel":"b","level":60,"t":5.49,"p":123.4},{"k":"l","panel":"b","level":80,"t":5.49,"p":129.0},{"k":"l","panel":"b","level":-60,"t":1.05,"p":78.9},{"k":"l","panel":"b","level":-40,"t":1.07,"p":87.7},{"k":"l","panel":"b","level":-20,"t":1.03,"p":94.8},{"k":"l","panel":"b","level":0,"t":1.27,"p":102.0},{"k":"l","panel":"b","level":20,"t":1.16,"p":107.8},{"k":"l","panel":"b","level":40,"t":1.16,"p":113.2},{"k":"l","panel":"b","level":60,"t":1.16,"p":118.5},{"k":"l","panel":"b","level":80,"t":1.16,"p":123.3},{"k":"l","panel":"b","level":100,"t":1.16,"p":128.0},
{"k":"l","panel":"c","level":-60,"t":5.28,"p":86.3},{"k":"l","panel":"c","level":-40,"t":5.33,"p":105.1},{"k":"l","panel":"c","level":-20,"t":5.33,"p":123.3},{"k":"l","panel":"c","level":-60,"t":1.28,"p":72.9},{"k":"l","panel":"c","level":-40,"t":1.53,"p":87.6},{"k":"l","panel":"c","level":-20,"t":1.7,"p":102.7},{"k":"l","panel":"c","level":0,"t":1.79,"p":114.1},{"k":"l","panel":"c","level":20,"t":1.49,"p":121.2},{"k":"l","panel":"c","level":40,"t":1.24,"p":127.1},
{"k":"l","panel":"d","level":-80,"t":5.45,"p":72.6},{"k":"l","panel":"d","level":-60,"t":5.45,"p":82.3},{"k":"l","panel":"d","level":-40,"t":5.45,"p":89.4},{"k":"l","panel":"d","level":-20,"t":5.45,"p":95.9},{"k":"l","panel":"d","level":0,"t":5.55,"p":102.1},{"k":"l","panel":"d","level":20,"t":5.45,"p":107.0},{"k":"l","panel":"d","level":40,"t":5.45,"p":111.5},{"k":"l","panel":"d","level":60,"t":5.45,"p":115.3},{"k":"l","panel":"d","level":80,"t":5.45,"p":118.6},{"k":"l","panel":"d","level":100,"t":5.4,"p":121.8},{"k":"l","panel":"d","level":120,"t":5.45,"p":124.9},{"k":"l","panel":"d","level":140,"t":5.45,"p":127.4},
{"k":"l","panel":"d","level":-80,"t":1.1,"p":72.0},{"k":"l","panel":"d","level":-60,"t":1.1,"p":82.4},{"k":"l","panel":"d","level":-40,"t":1.1,"p":90.0},{"k":"l","panel":"d","level":-20,"t":1.1,"p":96.3},{"k":"l","panel":"d","level":0,"t":1.29,"p":101.6},{"k":"l","panel":"d","level":20,"t":1.22,"p":105.4},{"k":"l","panel":"d","level":40,"t":1.18,"p":109.4},{"k":"l","panel":"d","level":60,"t":1.14,"p":112.8},{"k":"l","panel":"d","level":80,"t":1.08,"p":116.0},{"k":"l","panel":"d","level":100,"t":1.02,"p":118.6},{"k":"l","panel":"d","level":120,"t":0.98,"p":121.6},{"k":"l","panel":"d","level":140,"t":0.98,"p":123.9},{"k":"l","panel":"d","level":160,"t":1.0,"p":126.3},{"k":"l","panel":"d","level":180,"t":1.05,"p":128.6},
{"k":"l","panel":"e","level":-60,"t":5.39,"p":77.7},{"k":"l","panel":"e","level":-40,"t":5.39,"p":91.6},{"k":"l","panel":"e","level":-20,"t":5.43,"p":104.6},{"k":"l","panel":"e","level":0,"t":5.6,"p":116.4},{"k":"l","panel":"e","level":20,"t":5.43,"p":127.1},{"k":"l","panel":"e","level":-60,"t":1.12,"p":71.8},{"k":"l","panel":"e","level":-40,"t":1.12,"p":84.7},{"k":"l","panel":"e","level":-20,"t":1.2,"p":97.0},{"k":"l","panel":"e","level":0,"t":1.41,"p":106.3},{"k":"l","panel":"e","level":20,"t":1.37,"p":115.1},{"k":"l","panel":"e","level":40,"t":1.33,"p":122.7},{"k":"l","panel":"e","level":60,"t":1.2,"p":129.5},
{"k":"l","panel":"f","level":-80,"t":5.43,"p":75.9},{"k":"l","panel":"f","level":-60,"t":5.43,"p":90.0},{"k":"l","panel":"f","level":-40,"t":5.43,"p":100.2},{"k":"l","panel":"f","level":-20,"t":5.38,"p":109.2},{"k":"l","panel":"f","level":0,"t":5.59,"p":117.05},{"k":"l","panel":"f","level":20,"t":5.47,"p":124.9},{"k":"l","panel":"f","level":-60,"t":1.28,"p":78.8},{"k":"l","panel":"f","level":-40,"t":1.28,"p":89.1},{"k":"l","panel":"f","level":-20,"t":1.28,"p":97.4},{"k":"l","panel":"f","level":0,"t":1.46,"p":104.45},{"k":"l","panel":"f","level":20,"t":1.45,"p":111.2},{"k":"l","panel":"f","level":40,"t":1.45,"p":117.0},{"k":"l","panel":"f","level":60,"t":1.33,"p":122.9},{"k":"l","panel":"f","level":80,"t":1.2,"p":127.6},
{"k":"l","panel":"g","level":-60,"t":5.43,"p":76.8},{"k":"l","panel":"g","level":-40,"t":5.43,"p":86.9},{"k":"l","panel":"g","level":-20,"t":5.43,"p":95.9},{"k":"l","panel":"g","level":0,"t":5.6,"p":104.4},{"k":"l","panel":"g","level":20,"t":5.43,"p":112.9},{"k":"l","panel":"g","level":40,"t":5.43,"p":120.5},{"k":"l","panel":"g","level":60,"t":5.43,"p":128.0},{"k":"l","panel":"g","level":-60,"t":1.13,"p":72.5},{"k":"l","panel":"g","level":-40,"t":1.13,"p":82.7},{"k":"l","panel":"g","level":-20,"t":1.13,"p":91.7},{"k":"l","panel":"g","level":0,"t":1.29,"p":101.0},{"k":"l","panel":"g","level":20,"t":1.13,"p":109.4},{"k":"l","panel":"g","level":40,"t":1.13,"p":117.7},{"k":"l","panel":"g","level":60,"t":1.13,"p":125.6},
{"k":"l","panel":"h","level":-20,"t":5.38,"p":77.9},{"k":"l","panel":"h","level":0,"t":5.59,"p":88.6},{"k":"l","panel":"h","level":20,"t":5.47,"p":100.8},{"k":"l","panel":"h","level":40,"t":5.51,"p":112.4},{"k":"l","panel":"h","level":60,"t":5.64,"p":123.8},{"k":"l","panel":"h","level":-20,"t":1.12,"p":80.3},{"k":"l","panel":"h","level":0,"t":1.58,"p":101.1},{"k":"l","panel":"h","level":20,"t":1.83,"p":117.5},
{"k":"n","panel":"a","name":"(a)","t":0.33,"p":71.6},{"k":"n","panel":"b","name":"(b)","t":0.33,"p":71.6},{"k":"n","panel":"c","name":"(c)","t":0.33,"p":71.6},{"k":"n","panel":"d","name":"(d)","t":0.33,"p":71.6},{"k":"n","panel":"e","name":"(e)","t":0.33,"p":71.6},{"k":"n","panel":"f","name":"(f)","t":0.33,"p":71.6},{"k":"n","panel":"g","name":"(g)","t":0.33,"p":71.6},{"k":"n","panel":"h","name":"(h)","t":0.33,"p":71.6}
]},
"facet": {"field": "panel", "type": "nominal", "sort": ["a","b","c","d","e","f","g","h"],
  "header": {"title": null, "labelFont": "Liberation Sans", "labelFontSize": 16.3, "labelFontWeight": "bold", "labelColor": "#000000", "labelPadding": -2,
    "labelExpr": "datum.value=='a'?'Change of groundwater flow (%)':datum.value=='b'?'Change of subsurface interflow (%)':datum.value=='c'?'Change of snowmelt overland flow (%)':datum.value=='d'?'Change of rain overland flow (%)':datum.value=='e'?'Change of spring runoff (%)':datum.value=='f'?'Change of summer runoff (%)':datum.value=='g'?'Change of autumn runoff (%)':'Change of winter runoff (%)'"}},
"columns": 4,
"spacing": {"row": 58, "column": 63},
"bounds": "flush",
"resolve": {"axis": {"x": "independent", "y": "independent"}},
"spec": {
  "width": 259, "height": 238,
  "layer": [
    {"transform": [{"filter": "datum.k=='bg'"}],
     "mark": {"type": "rect"},
     "encoding": {
       "x": {"datum": 70, "type": "quantitative", "scale": {"domain": [70,130], "nice": false, "zero": false},
             "axis": {"title": null, "values": [70,80,90,100,110,120,130], "labelExpr": "datum.value + '%P'", "labelPadding": 7, "labelOverlap": false}},
       "x2": {"datum": 130},
       "y": {"datum": 0, "type": "quantitative", "scale": {"domain": [0,6], "nice": false, "zero": false},
             "axis": {"title": null, "values": [0,1,2,3,4,5,6], "tickCount": 7, "labelExpr": "'+' + datum.value + '°C'", "labelPadding": 5, "labelOverlap": false}},
       "y2": {"datum": 6},
       "color": {"field": "band", "type": "ordinal", "legend": null,
         "scale": {"domain": [-100,-80,-60,-40,-20,0,20,40,60,80,100,120,140,160,180,200],
                   "range": ["#FAB71E","#FDD01E","#F6E812","#BFEB2B","#7FE36B","#18DB8A","#03C8AA","#08B5DB","#1595EB","#0F7EE5","#0B66DA","#0950CA","#0739B3","#05289C","#041887","#020B70"]}}
     }},
    {"transform": [{"filter": "datum.k=='b'"},
                   {"window": [{"op": "lead", "field": "p", "as": "hi"}], "groupby": ["panel","t"], "sort": [{"field": "band", "order": "ascending"}]},
                   {"filter": "isValid(datum.hi)"}],
     "mark": {"type": "area", "orient": "horizontal", "clip": true, "strokeWidth": 0.7},
     "encoding": {
       "y": {"field": "t", "type": "quantitative",
             "axis": {"title": null, "values": [0,1,2,3,4,5,6], "tickCount": 7, "labelExpr": "'+' + datum.value + '°C'", "labelPadding": 5, "labelOverlap": false}},
       "x": {"field": "p", "type": "quantitative", "stack": null},
       "x2": {"field": "hi"},
       "color": {"field": "band", "type": "ordinal", "legend": null},
       "stroke": {"field": "band", "type": "ordinal", "legend": null,
         "scale": {"domain": [-100,-80,-60,-40,-20,0,20,40,60,80,100,120,140,160,180,200],
                   "range": ["#FAB71E","#FDD01E","#F6E812","#BFEB2B","#7FE36B","#18DB8A","#03C8AA","#08B5DB","#1595EB","#0F7EE5","#0B66DA","#0950CA","#0739B3","#05289C","#041887","#020B70"]}}
     }},
    {"transform": [{"filter": "datum.k=='z'"}],
     "mark": {"type": "line", "color": "#000000", "strokeWidth": 2.4, "clip": true},
     "encoding": {
       "x": {"field": "p", "type": "quantitative"},
       "y": {"field": "t", "type": "quantitative"},
       "detail": {"field": "seg", "type": "nominal"},
       "order": {"field": "t", "type": "quantitative"}
     }},
    {"transform": [{"filter": "datum.k=='l'"}],
     "mark": {"type": "text", "font": "Liberation Sans", "fontSize": 11.5, "fontWeight": "bold", "color": "#000000", "align": "center", "baseline": "middle"},
     "encoding": {
       "x": {"field": "p", "type": "quantitative"},
       "y": {"field": "t", "type": "quantitative"},
       "text": {"field": "level", "type": "nominal"},
       "angle": {"condition": [
          {"test": "datum.panel=='a'", "value": -74},
          {"test": "datum.panel=='b'", "value": -84},
          {"test": "datum.panel=='c' && datum.level<=-40", "value": -66},
          {"test": "datum.panel=='c'", "value": -52},
          {"test": "datum.panel=='e'", "value": -75},
          {"test": "datum.panel=='f'", "value": -73},
          {"test": "datum.panel=='g'", "value": -84},
          {"test": "datum.panel=='h' && datum.level<=0", "value": 84},
          {"test": "datum.panel=='h'", "value": 56}], "value": -90}
     }},
    {"transform": [{"filter": "datum.k=='n'"}],
     "mark": {"type": "text", "font": "Liberation Sans", "fontSize": 17, "fontWeight": "bold", "color": "#000000", "align": "left", "baseline": "middle"},
     "encoding": {
       "x": {"field": "p", "type": "quantitative"},
       "y": {"field": "t", "type": "quantitative"},
       "text": {"field": "name", "type": "nominal"}
     }}
  ]
}
}
